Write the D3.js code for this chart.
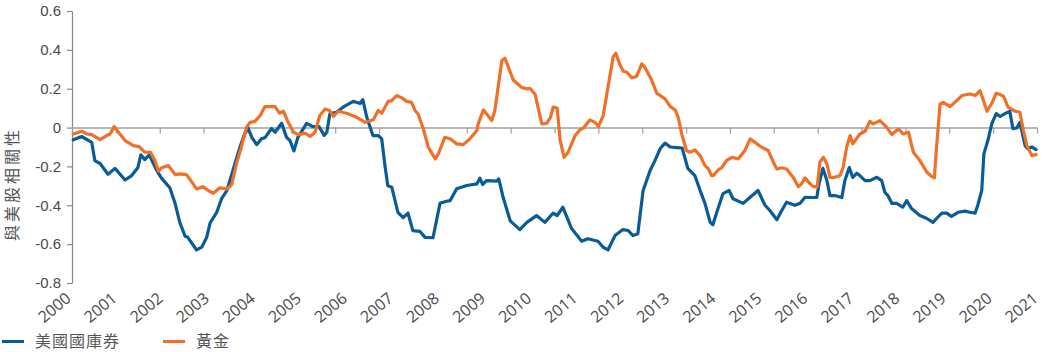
<!DOCTYPE html>
<html>
<head>
<meta charset="utf-8">
<script src="https://cdn.jsdelivr.net/npm/d3@7"></script>
<style>
  html, body { margin: 0; padding: 0; background: #fff; }
  svg { display: block; font-family: "Open Sans", "Noto Sans CJK TC", sans-serif; }
  .cjk { font-family: "Noto Sans CJK TC", "Noto Sans", sans-serif; }
</style>
</head>
<body>
<div id="chart"></div>
<script>
// decimal year, correlation with US equities
const treasuries = [
  [2000.03, -0.063], [2000.22, -0.046], [2000.45, -0.076], [2000.52, -0.17], [2000.64, -0.185],
  [2000.82, -0.24], [2000.98, -0.21], [2001.21, -0.27], [2001.36, -0.247], [2001.50, -0.207],
  [2001.57, -0.14], [2001.66, -0.165], [2001.76, -0.14], [2001.93, -0.22], [2002.04, -0.26],
  [2002.23, -0.31], [2002.35, -0.39], [2002.46, -0.49], [2002.58, -0.56], [2002.64, -0.565],
  [2002.84, -0.63], [2002.96, -0.615], [2003.07, -0.565], [2003.15, -0.49], [2003.30, -0.436],
  [2003.41, -0.366], [2003.53, -0.325], [2003.67, -0.22], [2003.83, -0.10], [2003.94, -0.03],
  [2004.01, 0.0], [2004.10, -0.05], [2004.21, -0.088], [2004.32, -0.057], [2004.40, -0.052],
  [2004.55, -0.005], [2004.63, -0.024], [2004.78, 0.022], [2004.89, -0.05], [2004.97, -0.067],
  [2005.06, -0.12], [2005.15, -0.05], [2005.35, 0.022], [2005.49, 0.005], [2005.63, 0.005],
  [2005.75, -0.04], [2005.81, -0.024], [2005.88, 0.072], [2006.03, 0.079], [2006.18, 0.105],
  [2006.41, 0.135], [2006.57, 0.124], [2006.63, 0.144], [2006.72, 0.053], [2006.86, -0.041],
  [2006.98, -0.041], [2007.06, -0.057], [2007.14, -0.204], [2007.20, -0.30], [2007.29, -0.307],
  [2007.43, -0.436], [2007.55, -0.464], [2007.66, -0.44], [2007.77, -0.53], [2007.93, -0.534],
  [2008.05, -0.565], [2008.23, -0.567], [2008.39, -0.39], [2008.54, -0.379], [2008.62, -0.376],
  [2008.77, -0.315], [2009.00, -0.298], [2009.23, -0.29], [2009.30, -0.26], [2009.36, -0.293],
  [2009.45, -0.273], [2009.68, -0.276], [2009.73, -0.264], [2009.83, -0.36], [2009.99, -0.48],
  [2010.21, -0.525], [2010.37, -0.488], [2010.59, -0.453], [2010.78, -0.488], [2010.97, -0.44],
  [2011.06, -0.453], [2011.19, -0.41], [2011.39, -0.52], [2011.62, -0.585], [2011.76, -0.572],
  [2011.99, -0.585], [2012.11, -0.616], [2012.22, -0.63], [2012.38, -0.556], [2012.56, -0.525],
  [2012.68, -0.53], [2012.79, -0.556], [2012.90, -0.546], [2013.02, -0.324], [2013.18, -0.221],
  [2013.29, -0.17], [2013.41, -0.108], [2013.52, -0.08], [2013.64, -0.10], [2013.79, -0.103],
  [2013.91, -0.105], [2014.04, -0.21], [2014.20, -0.247], [2014.32, -0.324], [2014.43, -0.39],
  [2014.55, -0.488], [2014.61, -0.50], [2014.70, -0.436], [2014.84, -0.34], [2014.98, -0.324],
  [2015.07, -0.366], [2015.30, -0.39], [2015.46, -0.359], [2015.64, -0.324], [2015.80, -0.40],
  [2015.91, -0.427], [2016.07, -0.474], [2016.18, -0.427], [2016.29, -0.384], [2016.48, -0.40],
  [2016.60, -0.39], [2016.71, -0.359], [2016.86, -0.36], [2016.98, -0.36], [2017.03, -0.29],
  [2017.12, -0.21], [2017.21, -0.273], [2017.28, -0.35], [2017.39, -0.35], [2017.55, -0.36],
  [2017.62, -0.273], [2017.72, -0.206], [2017.80, -0.257], [2017.89, -0.235], [2017.96, -0.247],
  [2018.08, -0.273], [2018.19, -0.273], [2018.35, -0.256], [2018.46, -0.273], [2018.53, -0.333],
  [2018.60, -0.35], [2018.69, -0.39], [2018.80, -0.39], [2018.94, -0.41], [2019.03, -0.376],
  [2019.14, -0.417], [2019.33, -0.453], [2019.49, -0.468], [2019.63, -0.488], [2019.71, -0.468],
  [2019.83, -0.44], [2019.94, -0.44], [2020.05, -0.457], [2020.20, -0.436], [2020.36, -0.43],
  [2020.47, -0.436], [2020.59, -0.44], [2020.65, -0.40], [2020.74, -0.324], [2020.79, -0.134],
  [2020.88, -0.067], [2020.97, 0.02], [2021.07, 0.072], [2021.16, 0.057], [2021.27, 0.072],
  [2021.38, 0.084], [2021.45, -0.005], [2021.54, -0.002], [2021.61, 0.027], [2021.73, -0.093],
  [2021.79, -0.108], [2021.88, -0.10], [2021.98, -0.113]
];

const gold = [
  [2000.03, -0.033], [2000.22, -0.019], [2000.34, -0.033], [2000.45, -0.036], [2000.64, -0.062],
  [2000.79, -0.041], [2000.87, -0.033], [2000.96, 0.005], [2001.06, -0.024], [2001.21, -0.067],
  [2001.40, -0.093], [2001.53, -0.098], [2001.66, -0.127], [2001.79, -0.127], [2001.89, -0.17],
  [2001.97, -0.225], [2002.04, -0.207], [2002.20, -0.196], [2002.35, -0.242], [2002.46, -0.238],
  [2002.61, -0.242], [2002.71, -0.273], [2002.84, -0.316], [2002.98, -0.304], [2003.11, -0.324],
  [2003.22, -0.338], [2003.37, -0.31], [2003.53, -0.316], [2003.64, -0.293], [2003.75, -0.187],
  [2003.87, -0.093], [2003.98, 0.002], [2004.06, 0.027], [2004.17, 0.032], [2004.29, 0.062],
  [2004.40, 0.108], [2004.63, 0.108], [2004.73, 0.074], [2004.82, 0.084], [2004.93, 0.027],
  [2005.05, -0.024], [2005.16, -0.036], [2005.31, -0.029], [2005.43, -0.046], [2005.54, -0.024],
  [2005.65, 0.062], [2005.77, 0.096], [2005.87, 0.088], [2005.96, 0.057], [2006.07, 0.084],
  [2006.26, 0.074], [2006.45, 0.057], [2006.57, 0.042], [2006.68, 0.027], [2006.87, 0.04],
  [2006.98, 0.088], [2007.06, 0.074], [2007.21, 0.135], [2007.29, 0.139], [2007.40, 0.165],
  [2007.52, 0.153], [2007.63, 0.135], [2007.74, 0.13], [2007.82, 0.088], [2007.89, 0.07],
  [2008.01, -0.007], [2008.12, -0.10], [2008.28, -0.161], [2008.35, -0.136], [2008.50, -0.05],
  [2008.62, -0.058], [2008.77, -0.084], [2008.92, -0.088], [2009.07, -0.058], [2009.23, -0.015],
  [2009.26, 0.019], [2009.38, 0.091], [2009.57, 0.036], [2009.64, 0.088], [2009.80, 0.345],
  [2009.87, 0.357], [2009.95, 0.31], [2010.06, 0.245], [2010.25, 0.207], [2010.37, 0.199],
  [2010.44, 0.202], [2010.56, 0.17], [2010.71, 0.019], [2010.82, 0.022], [2010.91, 0.053],
  [2010.97, 0.105], [2011.06, 0.101], [2011.13, -0.067], [2011.22, -0.153], [2011.31, -0.127],
  [2011.47, -0.041], [2011.58, -0.012], [2011.66, -0.002], [2011.81, 0.04], [2011.92, 0.027],
  [2012.00, 0.005], [2012.11, 0.062], [2012.27, 0.276], [2012.34, 0.366], [2012.40, 0.383],
  [2012.48, 0.328], [2012.57, 0.29], [2012.65, 0.285], [2012.76, 0.256], [2012.87, 0.263],
  [2012.99, 0.328], [2013.06, 0.31], [2013.22, 0.242], [2013.33, 0.177], [2013.52, 0.148],
  [2013.64, 0.108], [2013.75, 0.091], [2013.82, 0.053], [2013.90, -0.033], [2014.01, -0.118],
  [2014.09, -0.127], [2014.20, -0.115], [2014.32, -0.144], [2014.43, -0.196], [2014.51, -0.213],
  [2014.58, -0.247], [2014.62, -0.247], [2014.73, -0.218], [2014.81, -0.207], [2014.92, -0.17],
  [2015.04, -0.153], [2015.19, -0.161], [2015.34, -0.118], [2015.46, -0.058], [2015.57, -0.076],
  [2015.72, -0.101], [2015.87, -0.118], [2015.99, -0.178], [2016.07, -0.213], [2016.18, -0.207],
  [2016.29, -0.213], [2016.44, -0.256], [2016.56, -0.304], [2016.63, -0.29], [2016.71, -0.259],
  [2016.83, -0.29], [2016.90, -0.304], [2016.99, -0.304], [2017.05, -0.178], [2017.13, -0.153],
  [2017.21, -0.187], [2017.28, -0.256], [2017.39, -0.256], [2017.51, -0.247], [2017.58, -0.204],
  [2017.66, -0.101], [2017.74, -0.041], [2017.80, -0.084], [2017.96, -0.033], [2018.08, -0.019],
  [2018.19, 0.032], [2018.27, 0.019], [2018.42, 0.036], [2018.57, 0.002], [2018.69, -0.036],
  [2018.84, -0.007], [2018.95, -0.033], [2019.07, -0.024], [2019.18, -0.127], [2019.33, -0.17],
  [2019.49, -0.23], [2019.60, -0.252], [2019.66, -0.259], [2019.71, -0.101], [2019.79, 0.122],
  [2019.86, 0.13], [2020.02, 0.108], [2020.17, 0.139], [2020.29, 0.165], [2020.47, 0.173],
  [2020.59, 0.165], [2020.70, 0.19], [2020.78, 0.139], [2020.86, 0.084], [2020.97, 0.125],
  [2021.07, 0.177], [2021.16, 0.17], [2021.24, 0.16], [2021.34, 0.105], [2021.50, 0.084],
  [2021.61, 0.079], [2021.69, -0.015], [2021.77, -0.093], [2021.88, -0.144], [2021.98, -0.139]
];

const yTicks = [-0.8, -0.6, -0.4, -0.2, 0, 0.2, 0.4, 0.6];
const yearLabels = d3.range(2000, 2022).map(String);
const seriesNames = ['美國國庫券', '黃金'];
const seriesColors = ['#0a5c96', '#f07027'];

const width = 1050;
const height = 352;

const svg = d3.select('#chart').append('svg')
  .attr('width', width)
  .attr('height', height);

const x = d3.scaleLinear().domain([2000, 2022]).range([72, 1037]);
const y = d3.scaleLinear().domain([-0.8, 0.6]).range([283, 11]);
const labelX = d3.scalePoint().domain(yearLabels).range([72, 1039]);

// y axis
const yAxis = d3.axisLeft(y)
  .tickValues(yTicks)
  .tickSize(5)
  .tickSizeOuter(0)
  .tickPadding(6)
  .tickFormat((d) => (d === 0 ? '0' : d3.format('.1f')(d).replace('−', '-')));

const yAxisG = svg.append('g')
  .attr('transform', `translate(${x(2000)},0)`)
  .call(yAxis);
yAxisG.select('.domain').attr('stroke', '#8a8a8a').attr('stroke-width', 1.2);
yAxisG.selectAll('.tick line').attr('stroke', '#8a8a8a').attr('stroke-width', 1.2);
yAxisG.selectAll('.tick text')
  .attr('fill', '#4a4a4a')
  .style('font-size', '15px');

// zero line with year ticks
const xAxis = d3.axisBottom(x)
  .tickValues(d3.range(2000, 2023))
  .tickSize(6)
  .tickSizeOuter(0)
  .tickFormat('');
const xAxisG = svg.append('g')
  .attr('transform', `translate(0,${y(0)})`)
  .call(xAxis);
xAxisG.select('.domain').attr('stroke', '#a0a0a0').attr('stroke-width', 1.6);
xAxisG.selectAll('.tick line').attr('stroke', '#a0a0a0').attr('stroke-width', 1.2);

// year labels, slanted
svg.append('g').selectAll('text')
  .data(yearLabels)
  .join('text')
  .attr('x', (d) => labelX(d))
  .attr('y', 300)
  .attr('transform', (d) => `rotate(-40,${labelX(d)},300)`)
  .attr('text-anchor', 'end')
  .attr('fill', '#4a4a4a')
  .attr('font-size', 16)
  .text((d) => d);

// y title
svg.append('text')
  .attr('class', 'cjk')
  .attr('transform', 'translate(18,184) rotate(-90)')
  .attr('text-anchor', 'middle')
  .attr('fill', '#555')
  .style('font-size', '16px')
  .style('letter-spacing', '3px')
  .text('與美股相關性');

// lines
const line = d3.line()
  .x((d) => x(d[0]))
  .y((d) => y(d[1]));

[treasuries, gold].forEach((series, i) => {
  svg.append('path')
    .datum(series)
    .attr('fill', 'none')
    .attr('stroke', seriesColors[i])
    .attr('stroke-width', 3.2)
    .attr('stroke-linejoin', 'round')
    .attr('stroke-linecap', 'round')
    .attr('d', line);
});

// legend
const legendX = [2, 163];
const legend = svg.append('g').selectAll('g')
  .data(seriesNames)
  .join('g')
  .attr('transform', (d, i) => `translate(${legendX[i]},341.5)`);
legend.append('line')
  .attr('x1', 0).attr('x2', 22)
  .attr('stroke', (d, i) => seriesColors[i])
  .attr('stroke-width', 3);
legend.append('text')
  .attr('class', 'cjk')
  .attr('x', 33)
  .attr('dy', '0.36em')
  .attr('fill', '#555')
  .style('font-size', '16px')
  .style('letter-spacing', '1px')
  .text((d) => d);
</script>
</body>
</html>
